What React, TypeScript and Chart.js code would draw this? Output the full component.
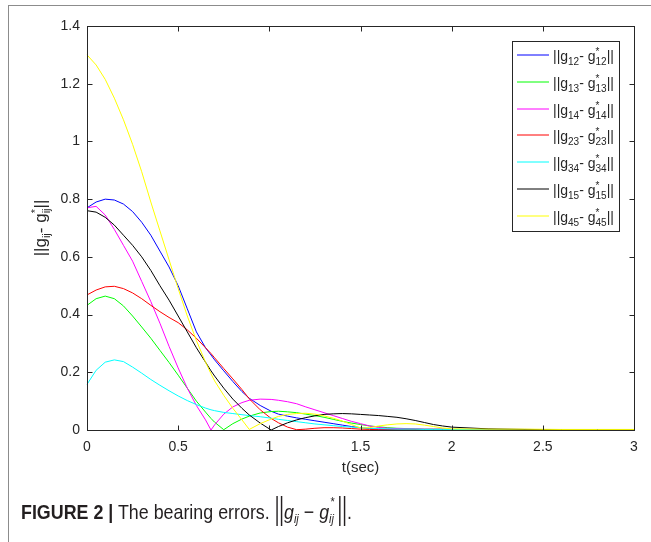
import React, { useEffect, useRef } from "react";
import { Chart, registerables } from "chart.js";

Chart.register(...registerables);

// ---- data ----
const timeSec = [
  0, 0.05, 0.1, 0.15, 0.2, 0.25, 0.3, 0.35, 0.4, 0.45, 0.5, 0.55, 0.6, 0.65, 0.68, 0.7, 0.75, 0.8, 0.85, 0.89,
  0.95, 1.01, 1.05, 1.1, 1.15, 1.2, 1.25, 1.3, 1.35, 1.4, 1.45, 1.5, 1.55, 1.6, 1.65, 1.7, 1.75, 1.8, 1.85, 1.9,
  1.95, 2.0, 2.2, 2.4, 2.6, 2.8, 3.0,
];

const err12 = [
  0.77, 0.79, 0.8, 0.797, 0.783, 0.757, 0.72, 0.675, 0.62, 0.565, 0.5, 0.42, 0.34, 0.285, 0.26, 0.243, 0.205, 0.168, 0.133, 0.11,
  0.085, 0.065, 0.055, 0.048, 0.042, 0.037, 0.032, 0.027, 0.022, 0.017, 0.012, 0.008, 0.005, 0.003, 0.002, 0.002, 0.001, 0.001, 0.001, 0.001,
  0.001, 0.001, 0, 0, 0, 0, 0,
];
const err13 = [
  0.432, 0.455, 0.464, 0.455, 0.43, 0.395, 0.357, 0.318, 0.276, 0.234, 0.19, 0.145, 0.1, 0.062, 0.04, 0.027, 0.001, 0.022, 0.038, 0.048,
  0.059, 0.064, 0.065, 0.063, 0.06, 0.055, 0.05, 0.044, 0.037, 0.03, 0.024, 0.019, 0.014, 0.011, 0.008, 0.006, 0.005, 0.004, 0.003, 0.003,
  0.003, 0.002, 0.002, 0.001, 0.001, 0.001, 0.001,
];
const err14 = [
  0.77, 0.775, 0.745, 0.695, 0.64, 0.585, 0.515, 0.445, 0.37, 0.29, 0.215, 0.145, 0.085, 0.035, 0.0, 0.018, 0.055, 0.08, 0.095, 0.103,
  0.107, 0.106, 0.103, 0.098, 0.091, 0.08, 0.07, 0.06, 0.05, 0.04, 0.03, 0.022, 0.014, 0.009, 0.006, 0.005, 0.004, 0.004, 0.003, 0.003,
  0.003, 0.002, 0.002, 0.001, 0.001, 0.001, 0.001,
];
const err23 = [
  0.468, 0.485, 0.496, 0.498, 0.49, 0.475, 0.455, 0.432, 0.41, 0.39, 0.372, 0.347, 0.318, 0.285, 0.265, 0.25, 0.213, 0.177, 0.14, 0.108,
  0.07, 0.04, 0.025, 0.01, 0.001, 0.003, 0.006, 0.008, 0.008, 0.007, 0.005, 0.003, 0.002, 0.001, 0.001, 0.001, 0.001, 0.001, 0.001, 0.001,
  0.001, 0.001, 0, 0, 0, 0, 0,
];
const err34 = [
  0.158, 0.207, 0.235, 0.243, 0.237, 0.218, 0.197, 0.175, 0.155, 0.136, 0.118, 0.102, 0.088, 0.076, 0.07, 0.067, 0.061, 0.057, 0.053, 0.05,
  0.046, 0.041, 0.037, 0.033, 0.029, 0.025, 0.021, 0.018, 0.015, 0.012, 0.01, 0.008, 0.006, 0.005, 0.004, 0.003, 0.003, 0.003, 0.002, 0.002,
  0.002, 0.002, 0.001, 0.001, 0.001, 0.001, 0.001,
];
const err15 = [
  0.76, 0.755, 0.737, 0.71, 0.675, 0.64, 0.6, 0.553, 0.5, 0.45, 0.395, 0.34, 0.285, 0.235, 0.205, 0.187, 0.145, 0.107, 0.075, 0.052,
  0.024, 0.0, 0.012, 0.025, 0.035, 0.043, 0.049, 0.054, 0.056, 0.057, 0.056, 0.054, 0.052, 0.05, 0.047, 0.044, 0.039, 0.033, 0.026, 0.019,
  0.014, 0.01, 0.004, 0.002, 0.001, 0.001, 0.001,
];
const err45 = [
  1.3, 1.265, 1.215, 1.15, 1.075, 0.99, 0.895, 0.79, 0.69, 0.59, 0.49, 0.395, 0.31, 0.235, 0.195, 0.17, 0.12, 0.075, 0.035, 0.002,
  0.022, 0.038, 0.047, 0.054, 0.057, 0.058, 0.055, 0.049, 0.041, 0.031, 0.019, 0.007, 0.008, 0.014, 0.018, 0.021, 0.022, 0.021, 0.017, 0.012,
  0.007, 0.004, 0.003, 0.003, 0.002, 0.002, 0.002,
];

const seriesValues = [err12, err13, err14, err23, err34, err15, err45];
const seriesSubs = ["12", "13", "14", "23", "34", "15", "45"];
const seriesColors = ["#0000ff", "#00ff00", "#ff00ff", "#ff0000", "#00ffff", "#000000", "#ffff00"];

const xTicks = [0, 0.5, 1, 1.5, 2, 2.5, 3];
const yTicks = [0, 0.2, 0.4, 0.6, 0.8, 1, 1.2, 1.4];
const xTickLabels = ["0", "0.5", "1", "1.5", "2", "2.5", "3"];
const yTickLabels = ["0", "0.2", "0.4", "0.6", "0.8", "1", "1.2", "1.4"];
const xTitle = "t(sec)";

// ---- rich text helper ----
type Piece = { text: string; size: number; dy: number };
type Item = Piece | { stack: Piece[] };
const FAMILY = '"Liberation Sans", Arial, Helvetica, sans-serif';
const AXIS = "#262626";

function measureItems(ctx: CanvasRenderingContext2D, items: Item[]) {
  let w = 0;
  const widths: number[] = [];
  for (const it of items) {
    let iw = 0;
    if ("stack" in it) {
      for (const p of it.stack) {
        ctx.font = `${p.size}px ${FAMILY}`;
        iw = Math.max(iw, ctx.measureText(p.text).width);
      }
    } else {
      ctx.font = `${it.size}px ${FAMILY}`;
      iw = ctx.measureText(it.text).width;
    }
    widths.push(iw);
    w += iw;
  }
  return { w, widths };
}

function drawItems(ctx: CanvasRenderingContext2D, items: Item[], x: number, y: number) {
  const { widths } = measureItems(ctx, items);
  let cx = x;
  ctx.textAlign = "left";
  ctx.textBaseline = "alphabetic";
  items.forEach((it, i) => {
    const ps = "stack" in it ? it.stack : [it];
    for (const p of ps) {
      ctx.font = `${p.size}px ${FAMILY}`;
      ctx.fillText(p.text, cx, y + p.dy);
    }
    cx += widths[i];
  });
}

function labelItems(sub: string, big: number, small: number, subDy: number, starDy: number): Item[] {
  return [
    { text: "||g", size: big, dy: 0 },
    { text: sub, size: small, dy: subDy },
    { text: "- g", size: big, dy: 0 },
    { stack: [ { text: "*", size: small, dy: starDy }, { text: sub, size: small, dy: subDy } ] },
    { text: "||", size: big, dy: 0 },
  ];
}

const decorPlugin = {
  id: "decor",
  afterDraw(chart: any) {
    const ctx: CanvasRenderingContext2D = chart.ctx;
    const { left, right, top, bottom } = chart.chartArea;
    const xs = chart.scales.x;
    const ys = chart.scales.y;
    ctx.save();
    ctx.strokeStyle = AXIS;
    ctx.lineWidth = 1;
    const L = Math.round(left) + 0.5;
    const R = Math.round(right) + 0.5;
    const T = Math.round(top) + 0.5;
    const B = Math.round(bottom) + 0.5;
    ctx.strokeRect(L, T, R - L, B - T);
    const tl = 5;
    ctx.beginPath();
    for (const v of xTicks) {
      const px = Math.round(xs.getPixelForValue(v)) + 0.5;
      ctx.moveTo(px, B);
      ctx.lineTo(px, B - tl);
      ctx.moveTo(px, T);
      ctx.lineTo(px, T + tl);
    }
    for (const v of yTicks) {
      const py = Math.round(ys.getPixelForValue(v)) + 0.5;
      ctx.moveTo(L, py);
      ctx.lineTo(L + tl, py);
      ctx.moveTo(R, py);
      ctx.lineTo(R - tl, py);
    }
    ctx.stroke();

    // axis titles
    ctx.fillStyle = AXIS;
    ctx.font = `15px ${FAMILY}`;
    ctx.textAlign = "center";
    ctx.textBaseline = "alphabetic";
    ctx.fillText(xTitle, (left + right) / 2, 472);

    const yItems: Item[] = [
      { text: "||g", size: 17, dy: 0 },
      { text: "ij", size: 11, dy: 4 },
      { text: "- g", size: 17, dy: 0 },
      { stack: [ { text: "*", size: 11, dy: -7 }, { text: "ij", size: 11, dy: 4 } ] },
      { text: "||", size: 17, dy: 0 },
    ];
    const ym = measureItems(ctx, yItems);
    ctx.save();
    ctx.translate(46, (top + bottom) / 2);
    ctx.rotate(-Math.PI / 2);
    drawItems(ctx, yItems, -ym.w / 2, 0);
    ctx.restore();

    // legend
    const bx = 512.5, by = 41.5, bw = 107, bh = 190;
    ctx.fillStyle = "#ffffff";
    ctx.fillRect(bx, by, bw, bh);
    ctx.strokeStyle = AXIS;
    ctx.strokeRect(bx, by, bw, bh);
    seriesSubs.forEach((s, i) => {
      const base = 61 + i * 26.8;
      ctx.strokeStyle = seriesColors[i];
      ctx.lineWidth = 1;
      ctx.beginPath();
      ctx.moveTo(517, Math.round(base - 6));
      ctx.lineTo(549, Math.round(base - 6));
      ctx.stroke();
      ctx.fillStyle = AXIS;
      drawItems(ctx, labelItems(s, 14, 10, 4, -6), 553, base);
    });
    ctx.restore();
  },
};

export default function App() {
  const ref = useRef<HTMLCanvasElement | null>(null);
  useEffect(() => {
    if (!ref.current) return;
    const chart = new Chart(ref.current, {
      type: "line",
      data: {
        datasets: seriesValues.map((vals, i) => ({
          label: "g" + seriesSubs[i],
          data: timeSec.map((t, k) => ({ x: t, y: vals[k] })),
          borderColor: seriesColors[i],
          backgroundColor: seriesColors[i],
          borderWidth: 1,
          pointRadius: 0,
          tension: 0,
          fill: false,
          clip: false as any,
          order: seriesValues.length - i,
        })),
      },
      options: {
        responsive: false,
        animation: false,
        devicePixelRatio: 1,
        layout: { padding: { left: 0, top: 26, right: 17, bottom: 62 } },
        plugins: { legend: { display: false }, tooltip: { enabled: false }, title: { display: false } },
        scales: {
          x: {
            type: "linear",
            min: 0,
            max: 3,
            grid: { display: false, drawTicks: false },
            border: { display: false },
            ticks: {
              padding: 9,
              color: AXIS,
              font: { family: FAMILY, size: 14 },
              maxRotation: 0,
              callback: (v: any) => {
                const idx = xTicks.indexOf(Number(v));
                return idx >= 0 ? xTickLabels[idx] : "";
              },
            },
            afterBuildTicks: (s: any) => {
              s.ticks = xTicks.map((v) => ({ value: v }));
            },
            afterFit: (s: any) => {
              s.height = 50;
            },
          },
          y: {
            type: "linear",
            min: 0,
            max: 1.4,
            grid: { display: false, drawTicks: false },
            border: { display: false },
            ticks: {
              padding: 7,
              color: AXIS,
              font: { family: FAMILY, size: 14 },
              callback: (v: any) => {
                const idx = yTicks.findIndex((t) => Math.abs(t - Number(v)) < 1e-9);
                return idx >= 0 ? yTickLabels[idx] : "";
              },
            },
            afterBuildTicks: (s: any) => {
              s.ticks = yTicks.map((v) => ({ value: v }));
            },
            afterFit: (s: any) => {
              s.width = 87;
            },
          },
        },
      },
      plugins: [decorPlugin],
    });
    return () => chart.destroy();
  }, []);

  const capFont = '"Liberation Sans", Arial, sans-serif';
  const bars = { display: "inline-block", transform: "scaleY(1.45)", transformOrigin: "50% 70%" } as const;
  return (
    <div style={{ position: "absolute", left: 0, top: 0, width: 651, height: 542, background: "#fff", overflow: "hidden" }}>
      <div style={{ position: "absolute", left: 8, top: 5, right: 0, height: 1, background: "#8c8c8c" }} />
      <div style={{ position: "absolute", left: 8, top: 5, width: 1, bottom: 0, background: "#8c8c8c" }} />
      <canvas ref={ref} width={651} height={542} style={{ position: "absolute", left: 0, top: 0, width: 651, height: 542 }} />
      <div
        style={{
          position: "absolute",
          left: 21,
          top: 497,
          fontFamily: capFont,
          fontSize: 21,
          lineHeight: "30px",
          color: "#231f20",
          whiteSpace: "nowrap",
          transform: "scaleX(0.85)",
          transformOrigin: "0 0",
        }}
      >
        <b>FIGURE 2 |</b> The bearing errors.{" "}
        <span style={bars}>||</span>
        <i>g</i>
        <span style={{ fontSize: 13, position: "relative", top: 4 }}><i>ij</i></span>
        {" − "}
        <i>g</i>
        <span style={{ display: "inline-block", position: "relative", fontSize: 13, width: 10 }}>
          <span style={{ position: "absolute", left: 1, top: -13 }}><i>*</i></span>
          <span style={{ position: "relative", top: 4 }}><i>ij</i></span>
        </span>
        <span style={bars}>||</span>.
      </div>
    </div>
  );
}
